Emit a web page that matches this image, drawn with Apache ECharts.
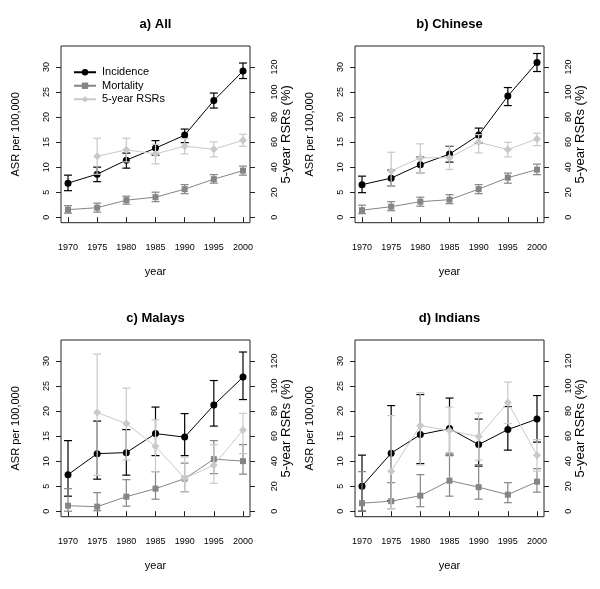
<!DOCTYPE html>
<html>
<head>
<meta charset="utf-8">
<script src="https://cdn.jsdelivr.net/npm/echarts@6/dist/echarts.min.js"></script>
<style>html,body{margin:0;padding:0;background:#fff}#c{width:600px;height:589px}</style>
</head>
<body>
<div id="c"></div>
<script>
// ---- DATA ----
const years = [1970, 1975, 1980, 1985, 1990, 1995, 2000];
const asrTicks = [0, 5, 10, 15, 20, 25, 30];
const rsrTicks = [0, 20, 40, 60, 80, 100, 120];
const panelTitles = ['a) All', 'b) Chinese', 'c) Malays', 'd) Indians'];
const seriesNames = ['Incidence', 'Mortality', '5-year RSRs'];

// a) All
const allInc = [6.8, 8.6, 11.4, 13.8, 16.4, 23.3, 29.2];
const allIncLo = [5.3, 7.1, 9.8, 12.4, 14.9, 21.8, 27.7];
const allIncHi = [8.4, 10.0, 12.8, 15.3, 17.6, 24.8, 30.8];
const allMort = [1.5, 1.9, 3.4, 4.0, 5.6, 7.6, 9.3];
const allMortLo = [0.8, 1.0, 2.6, 3.1, 4.7, 6.8, 8.4];
const allMortHi = [2.3, 2.8, 4.2, 5.0, 6.5, 8.5, 10.2];
const allRsr = [null, 48.7, 53.8, 50.6, 56.7, 54.3, 61.5];
const allRsrLo = [null, 34.3, 44.2, 42.6, 50.6, 48.2, 56.7];
const allRsrHi = [null, 63.1, 63.1, 58.3, 62.8, 60.1, 66.3];

// b) Chinese
const chiInc = [6.5, 7.8, 10.5, 12.6, 16.4, 24.2, 30.9];
const chiIncLo = [4.9, 6.2, 8.9, 11.0, 14.8, 22.3, 29.1];
const chiIncHi = [8.2, 9.4, 12.0, 14.2, 17.8, 25.9, 32.7];
const chiMort = [1.4, 2.1, 3.1, 3.5, 5.6, 7.9, 9.5];
const chiMortLo = [0.7, 1.3, 2.2, 2.7, 4.7, 6.8, 8.5];
const chiMortHi = [2.4, 3.1, 4.0, 4.5, 6.5, 8.8, 10.6];
const chiRsr = [null, 37.0, 47.4, 47.6, 59.9, 54.0, 62.5];
const chiRsrLo = [null, 24.8, 35.7, 38.1, 51.4, 48.2, 57.2];
const chiRsrHi = [null, 51.9, 58.6, 57.2, 66.0, 59.9, 67.1];

// c) Malays
const malInc = [7.3, 11.5, 11.7, 15.5, 14.8, 21.2, 26.8];
const malIncLo = [3.0, 6.4, 7.2, 11.1, 11.1, 17.0, 22.3];
const malIncHi = [14.1, 18.0, 16.3, 20.8, 19.5, 26.1, 31.8];
const malMort = [1.1, 0.9, 2.9, 4.5, 6.5, 10.4, 10.0];
const malMortLo = [0.0, 0.1, 1.0, 2.4, 3.9, 7.5, 7.4];
const malMortHi = [4.5, 3.7, 6.3, 7.9, 9.6, 14.1, 13.3];
const malRsr = [null, 78.8, 70.0, 51.8, 26.3, 36.8, 64.8];
const malRsrLo = [null, 28.6, 41.0, 31.5, 15.4, 22.3, 46.0];
const malRsrHi = [null, 125.6, 98.3, 73.0, 43.2, 53.0, 78.2];

// d) Indians
const indInc = [5.0, 11.6, 15.3, 16.5, 13.3, 16.3, 18.4];
const indIncLo = [0.0, 2.1, 9.5, 11.2, 9.0, 12.2, 13.8];
const indIncHi = [11.2, 21.1, 23.3, 22.6, 18.4, 20.9, 23.1];
const indMort = [1.6, 2.0, 3.1, 6.1, 4.8, 3.3, 5.9];
const indMortLo = [0.0, 0.5, 0.9, 3.0, 2.4, 1.7, 3.8];
const indMortHi = [7.9, 5.7, 7.3, 11.6, 9.3, 5.7, 8.5];
const indRsr = [null, 32.0, 68.4, 64.4, 59.6, 86.8, 44.8];
const indRsrLo = [null, 2.0, 37.0, 44.0, 40.8, 70.0, 32.0];
const indRsrHi = [null, 76.4, 94.8, 83.2, 78.4, 103.2, 57.2];

// ---- BUILD ----
const panels = [
  {inc: allInc, incLo: allIncLo, incHi: allIncHi, mort: allMort, mortLo: allMortLo, mortHi: allMortHi, rsr: allRsr, rsrLo: allRsrLo, rsrHi: allRsrHi},
  {inc: chiInc, incLo: chiIncLo, incHi: chiIncHi, mort: chiMort, mortLo: chiMortLo, mortHi: chiMortHi, rsr: chiRsr, rsrLo: chiRsrLo, rsrHi: chiRsrHi},
  {inc: malInc, incLo: malIncLo, incHi: malIncHi, mort: malMort, mortLo: malMortLo, mortHi: malMortHi, rsr: malRsr, rsrLo: malRsrLo, rsrHi: malRsrHi},
  {inc: indInc, incLo: indIncLo, incHi: indIncHi, mort: indMort, mortLo: indMortLo, mortHi: indMortHi, rsr: indRsr, rsrLo: indRsrLo, rsrHi: indRsrHi}
];

const FONT = 'Liberation Sans, Arial, Helvetica, sans-serif';
const colInc = '#000000', colMort = '#858585', colRsr = '#c9c9c9';
const yMin = -1.1, yMax = 34.2;
const plain = v => String(v);

function pts(vals) {
  const out = [];
  vals.forEach((v, k) => { if (v !== null) out.push([years[k], v]); });
  return out;
}
function bars(lo, hi) {
  const out = [];
  lo.forEach((v, k) => { if (v !== null && hi[k] !== null) out.push([years[k], v, hi[k]]); });
  return out;
}
function errRender(color) {
  return function (params, api) {
    const x = api.value(0);
    const p1 = api.coord([x, api.value(1)]);
    const p2 = api.coord([x, api.value(2)]);
    const w = 4;
    const st = {stroke: color, lineWidth: 1.2};
    return {
      type: 'group',
      children: [
        {type: 'line', shape: {x1: p1[0], y1: p1[1], x2: p2[0], y2: p2[1]}, style: st},
        {type: 'line', shape: {x1: p1[0] - w, y1: p1[1], x2: p1[0] + w, y2: p1[1]}, style: st},
        {type: 'line', shape: {x1: p2[0] - w, y1: p2[1], x2: p2[0] + w, y2: p2[1]}, style: st}
      ]
    };
  };
}

const grids = [], xAxes = [], yAxes = [], series = [], graphics = [];
panels.forEach((p, i) => {
  const col = i % 2, row = Math.floor(i / 2);
  const left = 61 + 294 * col, top = 46 + 294 * row, w = 189, h = 176.7;
  grids.push({left: left, top: top, width: w, height: h, show: true, borderColor: '#222', borderWidth: 1, backgroundColor: 'transparent'});
  xAxes.push({
    gridIndex: i, type: 'value', min: 1968.8, max: 2001.2,
    axisLine: {show: false}, splitLine: {show: false},
    axisTick: {show: true, customValues: years, length: 5, lineStyle: {color: '#222'}},
    axisLabel: {customValues: years, formatter: plain, fontSize: 9, color: '#000', margin: 20, fontFamily: FONT},
    name: 'year', nameLocation: 'middle', nameGap: 44,
    nameTextStyle: {fontSize: 11, color: '#000', fontFamily: FONT}
  });
  yAxes.push({
    gridIndex: i, type: 'value', position: 'left', min: yMin, max: yMax,
    axisLine: {show: false}, splitLine: {show: false},
    axisTick: {show: true, customValues: asrTicks, length: 5, lineStyle: {color: '#222'}},
    axisLabel: {customValues: asrTicks, formatter: plain, rotate: 90, fontSize: 9, color: '#000', margin: 10, fontFamily: FONT},
    name: 'ASR per 100,000', nameLocation: 'middle', nameRotate: 90, nameGap: 40,
    nameTextStyle: {fontSize: 11, color: '#000', fontFamily: FONT}
  });
  yAxes.push({
    gridIndex: i, type: 'value', position: 'right', min: yMin * 4, max: yMax * 4,
    axisLine: {show: false}, splitLine: {show: false},
    axisTick: {show: true, customValues: rsrTicks, length: 5, lineStyle: {color: '#222'}},
    axisLabel: {customValues: rsrTicks, formatter: plain, rotate: 90, fontSize: 9, color: '#000', margin: 20, fontFamily: FONT},
    name: '5-year RSRs (%)', nameLocation: 'middle', nameRotate: 90, nameGap: 28,
    nameTextStyle: {fontSize: 13, color: '#000', fontFamily: FONT}
  });
  const yl = 2 * i, yr = 2 * i + 1;
  series.push({type: 'line', name: 'Incidence', xAxisIndex: i, yAxisIndex: yl, data: pts(p.inc), symbol: 'circle', symbolSize: 7, itemStyle: {color: colInc}, lineStyle: {color: colInc, width: 1}, z: 3});
  series.push({type: 'line', name: 'Mortality', xAxisIndex: i, yAxisIndex: yl, data: pts(p.mort), symbol: 'rect', symbolSize: 6, itemStyle: {color: colMort}, lineStyle: {color: colMort, width: 1}, z: 5});
  series.push({type: 'line', name: '5-year RSRs', xAxisIndex: i, yAxisIndex: yr, data: pts(p.rsr), symbol: 'diamond', symbolSize: 8, itemStyle: {color: colRsr}, lineStyle: {color: colRsr, width: 1}, z: 7});
  series.push({type: 'custom', name: 'Incidence CI ' + i, xAxisIndex: i, yAxisIndex: yl, renderItem: errRender(colInc), data: bars(p.incLo, p.incHi), encode: {x: 0, y: [1, 2]}, z: 2, silent: true});
  series.push({type: 'custom', name: 'Mortality CI ' + i, xAxisIndex: i, yAxisIndex: yl, renderItem: errRender(colMort), data: bars(p.mortLo, p.mortHi), encode: {x: 0, y: [1, 2]}, z: 4, silent: true});
  series.push({type: 'custom', name: 'RSR CI ' + i, xAxisIndex: i, yAxisIndex: yr, renderItem: errRender(colRsr), data: bars(p.rsrLo, p.rsrHi), encode: {x: 0, y: [1, 2]}, z: 6, silent: true});
  graphics.push({type: 'text', x: left + w / 2, y: 24 + 294 * row, style: {text: panelTitles[i], fontSize: 13, fontWeight: 'bold', fill: '#000', font: 'bold 13px ' + FONT, textAlign: 'center', textVerticalAlign: 'middle'}});
});

const chart = echarts.init(document.getElementById('c'), null, {renderer: 'canvas'});
chart.setOption({
  animation: false,
  backgroundColor: '#fff',
  textStyle: {fontFamily: FONT},
  grid: grids, xAxis: xAxes, yAxis: yAxes, series: series,
  legend: {
    data: seriesNames,
    orient: 'vertical', left: 68, top: 60.5, itemWidth: 22, itemHeight: 8, itemGap: 0,
    textStyle: {fontSize: 11, color: '#000', fontFamily: FONT, padding: [0, 0, 0, 1], lineHeight: 13.5},
    selectedMode: false
  },
  graphic: graphics
});
</script>
</body>
</html>
